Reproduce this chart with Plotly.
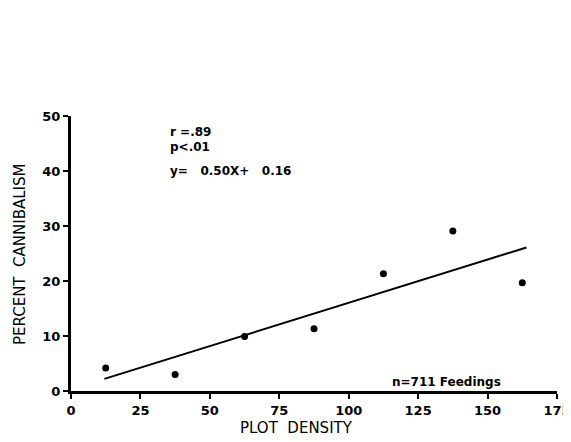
import numpy as np
import plotly.graph_objects as go

plot_density = [12.5, 37.5, 62.5, 87.5, 112.5, 137.5, 162.5]
percent_cannibalism = [4.2, 3.0, 9.9, 11.3, 21.3, 29.1, 19.7]
x_ticks = [0, 25, 50, 75, 100, 125, 150, 175]
y_ticks = [0, 10, 20, 30, 40, 50]
fit_range = [12, 164]

slope, intercept = np.polyfit(plot_density, percent_cannibalism, 1)
fit_x = np.array(fit_range, dtype=float)
fit_y = slope * fit_x + intercept

font_fam = "DejaVu Sans, Liberation Sans, sans-serif"

# figure is drawn inside the page's default 8px body margin
W, H = 563, 434
L, R, T, B = 63, 14, 108, 51
PW, PH = W - L - R, H - T - B

fig = go.Figure()
fig.add_trace(go.Scatter(x=fit_x, y=fit_y, mode="lines",
                         line=dict(color="black", width=2), showlegend=False))
fig.add_trace(go.Scatter(x=plot_density, y=percent_cannibalism, mode="markers",
                         marker=dict(color="black", size=7), showlegend=False))

stat_font = dict(family=font_fam, size=12, color="black")
fig.add_annotation(x=35, y=47.1, xref="x", yref="y", xanchor="left", yanchor="middle",
                   text="<b>r =.89</b>", showarrow=False, font=stat_font)
fig.add_annotation(x=35, y=44.4, xref="x", yref="y", xanchor="left", yanchor="middle",
                   text="<b>p<.01</b>", showarrow=False, font=stat_font)
fig.add_annotation(x=35, y=40.0, xref="x", yref="y", xanchor="left", yanchor="middle",
                   text="<b>y=   0.50X+   0.16</b>", showarrow=False, font=stat_font)
fig.add_annotation(x=115, y=1.6, xref="x", yref="y", xanchor="left", yanchor="middle",
                   text="<b>n=711 Feedings</b>", showarrow=False, font=stat_font)

# axis titles
title_font = dict(family=font_fam, size=15, color="black")
fig.add_annotation(x=(288 - L) / PW, y=-(420 - (H - B)) / PH,
                   xref="paper", yref="paper", showarrow=False,
                   xanchor="center", yanchor="middle",
                   text="PLOT  DENSITY", font=title_font)
fig.add_annotation(x=-(L - 12) / PW, y=((H - B) - 247) / PH,
                   xref="paper", yref="paper", showarrow=False, textangle=-90,
                   xanchor="center", yanchor="middle",
                   text="PERCENT  CANNIBALISM", font=title_font)

tick_font = dict(family=font_fam, size=13, color="black")
fig.update_xaxes(range=[0, 175], tickvals=x_ticks,
                 ticktext=["<b>%d</b>" % v for v in x_ticks],
                 showline=True, linecolor="black", linewidth=3, mirror=False,
                 ticks="outside", ticklen=5, tickwidth=2, tickcolor="black",
                 showgrid=False, zeroline=False, automargin=False,
                 tickfont=tick_font)
fig.update_yaxes(range=[0, 50], tickvals=y_ticks,
                 ticktext=["<b>%d</b>" % v for v in y_ticks],
                 showline=True, linecolor="black", linewidth=3, mirror=False,
                 ticks="outside", ticklen=5, tickwidth=2, tickcolor="black",
                 showgrid=False, zeroline=False, automargin=False,
                 tickfont=tick_font)

fig.update_layout(width=W, height=H, plot_bgcolor="white", paper_bgcolor="white",
                  margin=dict(l=L, r=R, t=T, b=B, autoexpand=False), showlegend=False)

fig.write_html("out.html")
